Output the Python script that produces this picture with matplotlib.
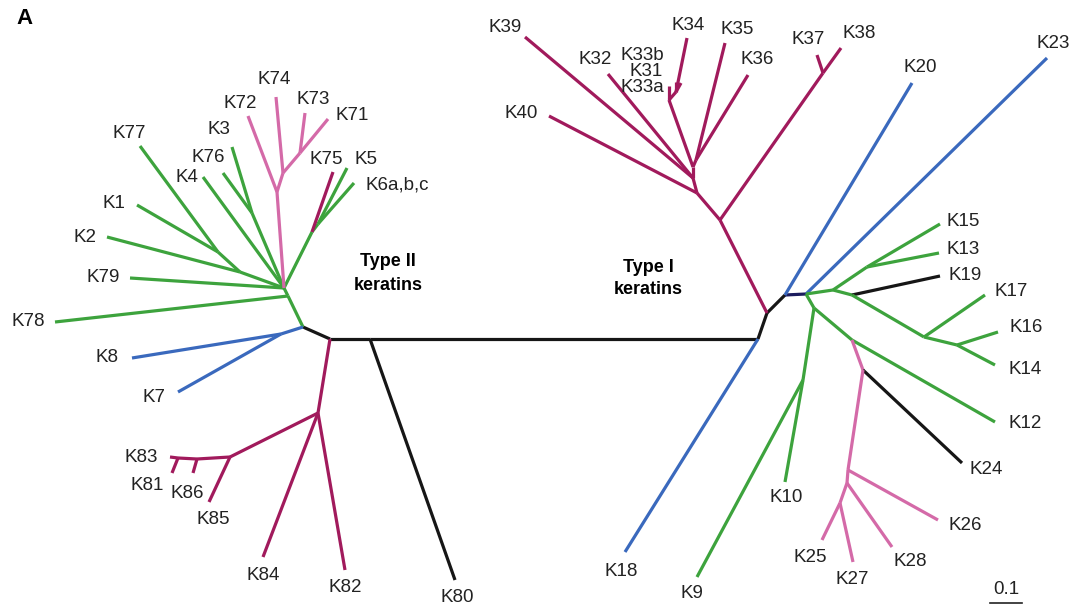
import matplotlib.pyplot as plt
from matplotlib.collections import LineCollection

plt.rcParams['font.family'] = ['Liberation Sans', 'DejaVu Sans']

# unrooted keratin tree, node positions in layout units (y grows downwards)
node_x = {
    'L0': 303, 'L1': 330, 'L2': 370, 'R0': 758, 'R1': 767, 'R2': 785, 'R3': 806,
    # type II
    'G0': 288, 'G1': 284, 'G2': 218, 'G2a': 240, 'G3': 252, 'G4': 312, 'G5': 318,
    'P1': 277, 'P2': 283, 'P3': 300,
    'B1': 281, 'M1': 318, 'M2': 230, 'M3': 197, 'M4': 178,
    'K78': 55, 'K79': 130, 'K2': 107, 'K1': 137, 'K77': 140, 'K4': 203, 'K76': 223,
    'K3': 232, 'K72': 248, 'K74': 276, 'K73': 305, 'K71': 328, 'K75': 333,
    'K5': 347, 'K6a,b,c': 354, 'K8': 132, 'K7': 178, 'K82': 345, 'K84': 263,
    'K85': 209, 'K86': 193, 'K81': 172, 'K83': 170, 'K80': 455,
    # type I
    'T1': 720, 'T2': 823, 'T3': 697, 'T4': 693, 'T5': 693, 'T6': 696, 'T7': 669, 'T8': 676,
    'K37': 817, 'K38': 841, 'K40': 549, 'K39': 525, 'K32': 608, 'K35': 725, 'K36': 748,
    'K34': 687, 'K33b': 681, 'K31': 676, 'K33a': 669,
    'K20': 912, 'K23': 1047, 'K18': 625,
    'H1': 833, 'H2': 867, 'H3': 852, 'H4': 924, 'H5': 957, 'H6': 814, 'H7': 803, 'H8': 852,
    'H9': 863, 'H10': 848, 'H11': 847, 'H12': 840,
    'K15': 940, 'K13': 939, 'K19': 940, 'K17': 985, 'K16': 998, 'K14': 995, 'K10': 785,
    'K9': 697, 'K12': 995, 'K24': 962, 'K26': 938, 'K28': 892, 'K25': 822, 'K27': 853,
}
node_y = {
    'L0': 327, 'L1': 339, 'L2': 339, 'R0': 339, 'R1': 313, 'R2': 295, 'R3': 294,
    'G0': 296, 'G1': 288, 'G2': 252, 'G2a': 272, 'G3': 213, 'G4': 232, 'G5': 224,
    'P1': 192, 'P2': 173, 'P3': 153,
    'B1': 334, 'M1': 413, 'M2': 457, 'M3': 459, 'M4': 458,
    'K78': 322, 'K79': 278, 'K2': 237, 'K1': 205, 'K77': 146, 'K4': 177, 'K76': 173,
    'K3': 147, 'K72': 116, 'K74': 97, 'K73': 113, 'K71': 119, 'K75': 172,
    'K5': 168, 'K6a,b,c': 183, 'K8': 358, 'K7': 392, 'K82': 570, 'K84': 557,
    'K85': 502, 'K86': 473, 'K81': 473, 'K83': 457, 'K80': 580,
    'T1': 220, 'T2': 73, 'T3': 193, 'T4': 178, 'T5': 167, 'T6': 160, 'T7': 100, 'T8': 92,
    'K37': 55, 'K38': 48, 'K40': 116, 'K39': 37, 'K32': 74, 'K35': 43, 'K36': 75,
    'K34': 38, 'K33b': 83, 'K31': 82, 'K33a': 86,
    'K20': 83, 'K23': 58, 'K18': 552,
    'H1': 290, 'H2': 267, 'H3': 295, 'H4': 337, 'H5': 345, 'H6': 308, 'H7': 380, 'H8': 340,
    'H9': 370, 'H10': 470, 'H11': 483, 'H12': 503,
    'K15': 224, 'K13': 253, 'K19': 276, 'K17': 295, 'K16': 332, 'K14': 365, 'K10': 482,
    'K9': 577, 'K12': 422, 'K24': 463, 'K26': 520, 'K28': 547, 'K25': 540, 'K27': 562,
}

# branches as (from, to, clade)
branches = [
    ('L0', 'L1', 'black'), ('L1', 'L2', 'black'), ('L2', 'R0', 'black'),
    ('R0', 'R1', 'black'), ('R1', 'R2', 'black'), ('R2', 'R3', 'navy'),
    ('L2', 'K80', 'black'),
    # type II
    ('L0', 'G0', 'green'), ('G0', 'K78', 'green'), ('G0', 'G1', 'green'),
    ('G1', 'K79', 'green'), ('G1', 'G2a', 'green'), ('G2a', 'K2', 'green'),
    ('G2a', 'G2', 'green'), ('G2', 'K1', 'green'), ('G2', 'K77', 'green'),
    ('G1', 'K4', 'green'),
    ('G1', 'G3', 'green'), ('G3', 'K76', 'green'), ('G3', 'K3', 'green'),
    ('G1', 'G4', 'green'), ('G4', 'G5', 'green'), ('G5', 'K5', 'green'),
    ('G5', 'K6a,b,c', 'green'), ('G4', 'K75', 'magenta'),
    ('G1', 'P1', 'pink'), ('P1', 'K72', 'pink'), ('P1', 'P2', 'pink'),
    ('P2', 'K74', 'pink'), ('P2', 'P3', 'pink'), ('P3', 'K73', 'pink'), ('P3', 'K71', 'pink'),
    ('L0', 'B1', 'blue'), ('B1', 'K8', 'blue'), ('B1', 'K7', 'blue'),
    ('L1', 'M1', 'magenta'), ('M1', 'K82', 'magenta'), ('M1', 'K84', 'magenta'),
    ('M1', 'M2', 'magenta'), ('M2', 'K85', 'magenta'), ('M2', 'M3', 'magenta'),
    ('M3', 'K86', 'magenta'), ('M3', 'M4', 'magenta'), ('M4', 'K81', 'magenta'),
    ('M4', 'K83', 'magenta'),
    # type I
    ('R1', 'T1', 'magenta'), ('T1', 'T2', 'magenta'), ('T2', 'K37', 'magenta'),
    ('T2', 'K38', 'magenta'), ('T1', 'T3', 'magenta'), ('T3', 'K40', 'magenta'),
    ('T3', 'T4', 'magenta'), ('T4', 'K39', 'magenta'), ('T4', 'K32', 'magenta'),
    ('T4', 'T5', 'magenta'), ('T5', 'T6', 'magenta'), ('T6', 'K35', 'magenta'),
    ('T6', 'K36', 'magenta'), ('T5', 'T7', 'magenta'), ('T7', 'T8', 'magenta'),
    ('T8', 'K34', 'magenta'), ('T8', 'K33b', 'magenta'), ('T8', 'K31', 'magenta'),
    ('T7', 'K33a', 'magenta'),
    ('R2', 'K20', 'blue'), ('R3', 'K23', 'blue'), ('R0', 'K18', 'blue'),
    ('R3', 'H1', 'green'), ('H1', 'H2', 'green'), ('H2', 'K15', 'green'),
    ('H2', 'K13', 'green'), ('H1', 'H3', 'green'), ('H3', 'K19', 'black'),
    ('H3', 'H4', 'green'), ('H4', 'K17', 'green'), ('H4', 'H5', 'green'),
    ('H5', 'K16', 'green'), ('H5', 'K14', 'green'),
    ('R3', 'H6', 'green'), ('H6', 'H7', 'green'), ('H7', 'K10', 'green'),
    ('H7', 'K9', 'green'), ('H6', 'H8', 'green'), ('H8', 'K12', 'green'),
    ('H8', 'H9', 'pink'), ('H9', 'K24', 'black'), ('H9', 'H10', 'pink'),
    ('H10', 'K26', 'pink'), ('H10', 'H11', 'pink'), ('H11', 'K28', 'pink'),
    ('H11', 'H12', 'pink'), ('H12', 'K25', 'pink'), ('H12', 'K27', 'pink'),
]

clade_colors = {
    'black': '#161616', 'navy': '#1c1c5e', 'green': '#3da33d',
    'magenta': '#a11a5c', 'pink': '#d46aa8', 'blue': '#3a69bd',
}

# label centre for each tip
label_pos = {
    'K78': (28, 322), 'K79': (103, 278), 'K2': (85, 237), 'K1': (114, 203),
    'K77': (129, 133), 'K4': (187, 178), 'K76': (208, 157), 'K3': (219, 130),
    'K72': (240, 103), 'K74': (274, 80), 'K73': (313, 99), 'K71': (352, 115),
    'K75': (326, 160), 'K5': (366, 160), 'K6a,b,c': (397, 185), 'K8': (107, 358),
    'K7': (154, 398), 'K83': (141, 457), 'K81': (147, 485), 'K86': (187, 494),
    'K85': (213, 519), 'K84': (263, 575), 'K82': (345, 587), 'K80': (457, 598),
    'K39': (505, 27), 'K40': (521, 113), 'K32': (595, 60), 'K33b': (642, 55),
    'K31': (646, 71), 'K33a': (642, 87), 'K34': (688, 25), 'K35': (737, 29),
    'K36': (757, 60), 'K37': (808, 40), 'K38': (859, 33), 'K20': (920, 68),
    'K23': (1053, 44), 'K15': (963, 222), 'K13': (963, 249), 'K19': (965, 275),
    'K17': (1011, 292), 'K16': (1026, 327), 'K14': (1025, 369), 'K12': (1025, 424),
    'K24': (986, 469), 'K26': (965, 526), 'K28': (910, 562), 'K27': (852, 579),
    'K25': (810, 558), 'K10': (786, 497), 'K9': (692, 593), 'K18': (621, 571),
}

fig = plt.figure(figsize=(10.73, 6.10), dpi=100)
ax = fig.add_axes([0, 0, 1, 1])
ax.set_xlim(0, 1073)
ax.set_ylim(610, 0)
ax.axis('off')

segs = [[(node_x[a], node_y[a]), (node_x[b], node_y[b])] for a, b, _ in branches]
cols = [clade_colors[c] for _, _, c in branches]
ax.add_collection(LineCollection(segs, colors=cols, linewidths=2.3, capstyle='butt',
                                 joinstyle='round'))

for name, (tx, ty) in label_pos.items():
    ax.text(tx, ty, name, ha='center', va='center', fontsize=13.5, color='#222222')

ax.text(388, 262, 'Type II', ha='center', va='center', fontsize=13, fontweight='bold')
ax.text(388, 285, 'keratins', ha='center', va='center', fontsize=13, fontweight='bold')
ax.text(648, 267, 'Type I', ha='center', va='center', fontsize=13, fontweight='bold')
ax.text(648, 289, 'keratins', ha='center', va='center', fontsize=13, fontweight='bold')
ax.text(16, 19, 'A', ha='left', va='center', fontsize=16, fontweight='bold')

# scale bar
ax.text(1006, 589, '0.1', ha='center', va='center', fontsize=13.5, color='#222222')
ax.plot([990, 1022], [603, 603], color='#222222', lw=1.2)

fig.savefig('out.png', dpi=100)
